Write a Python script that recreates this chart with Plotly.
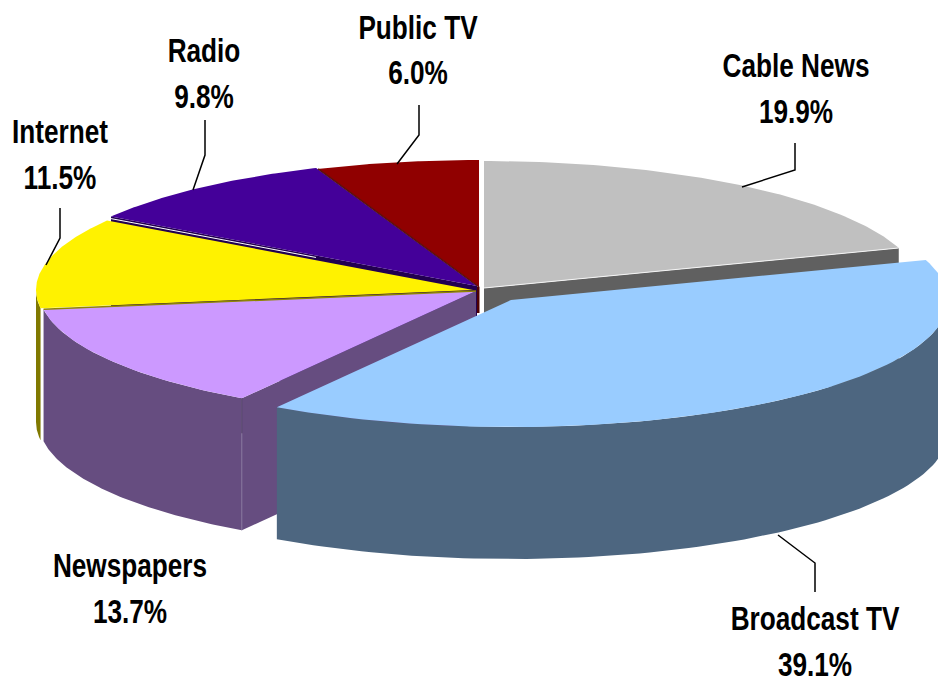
# 3D-style exploded pie of news source shares, built on pixel-like axes
import numpy as np
import plotly.graph_objects as go

# Data, clockwise from 12 o'clock
categories = ["Cable News", "Broadcast TV", "Newspapers", "Internet", "Radio", "Public TV"]
shares = [19.9, 39.1, 13.7, 11.5, 9.8, 6.0]

# Colours
top_colors = ["#C0C0C0", "#99CCFF", "#CC99FF", "#FFF200", "#440099", "#900000"]
wall_colors = ["#606060", "#4D6680", "#664D80", "#807900", "#220050", "#500000"]

# Pie geometry (apex of each exploded slice)
apex_x = [484, 511, 476, 473, 477, 479]
apex_y = [288, 300, 291, 290, 286, 287]
radius_x = 437
radius_y = 127
depth = 132

# Labels
label_x = [796, 815, 130, 60, 204, 418]
label_y = [69, 622, 569, 135, 54, 30]
line_gap = 46
leader_x = [[795, 795, 742], [815, 815, 778], [], [60, 60, 46], [205, 205, 193], [419, 419, 397]]
leader_y = [[143, 170, 187], [592, 563, 535], [], [208, 238, 265], [120, 155, 190], [105, 135, 164]]

ends = np.cumsum(shares) * 3.6
starts = ends - np.array(shares) * 3.6


def rim(i, a0, a1):
    t = np.radians(np.linspace(a0, a1, 90))
    return apex_x[i] + radius_x * np.sin(t), apex_y[i] - radius_y * np.cos(t)


def poly(xs, ys, color):
    fig.add_trace(go.Scatter(x=list(xs), y=list(ys), mode="lines", fill="toself",
                             fillcolor=color, line=dict(width=0), hoverinfo="skip"))


def edge(xs, ys, color, width=1):
    fig.add_trace(go.Scatter(x=list(xs), y=list(ys), mode="lines",
                             line=dict(color=color, width=width), hoverinfo="skip"))


def outer_wall(i, a0, a1):
    x, y = rim(i, a0, a1)
    poly(np.r_[x, x[::-1]], np.r_[y, y[::-1] + depth], wall_colors[i])


def radial_wall(i, a):
    x, y = rim(i, a, a)
    x, y = x[0], y[0]
    poly([apex_x[i], x, x, apex_x[i]], [apex_y[i], y, y + depth, apex_y[i] + depth], wall_colors[i])


def top_face(i):
    x, y = rim(i, starts[i], ends[i])
    poly(np.r_[apex_x[i], x], np.r_[apex_y[i], y], top_colors[i])


fig = go.Figure()

# Back to front: public TV, radio, internet, cable, newspapers, broadcast
edge([apex_x[4] - 2, apex_x[4] - 2], [apex_y[4], apex_y[4] + 28], wall_colors[4], 4)
edge([apex_x[5] - 1, apex_x[5] - 1], [apex_y[5], apex_y[5] + 26], wall_colors[5], 3)
radial_wall(4, starts[4])
top_face(4)
top_face(5)
px, py = rim(5, starts[5], starts[5])
edge([px[0], apex_x[5]], [py[0], apex_y[5]], "#5A1010", 1.5)

outer_wall(3, starts[3], 270)
top_face(3)

radial_wall(0, ends[0])
top_face(0)
cx, cy = rim(0, ends[0], ends[0])
edge([apex_x[0], cx[0]], [apex_y[0], cy[0]], "#F4F4F4", 1)

outer_wall(2, starts[2], ends[2])
radial_wall(2, starts[2])
top_face(2)
nx, ny = rim(2, starts[2], starts[2])
edge([nx[0], nx[0]], [ny[0] + 35, ny[0] + depth], "#84739A", 1)
edge([nx[0], nx[0]], [ny[0], ny[0] + 35], "#55466A", 1)
lx, ly = rim(2, ends[2], ends[2])
edge([lx[0], apex_x[2]], [ly[0], apex_y[2]], "#8F8600", 1.5)

# lit edge along the lower side of the radio slice
rx, ry = rim(4, starts[4], starts[4])
edge([rx[0], rx[0] + 0.56 * (apex_x[4] - rx[0])], [ry[0] + 2, ry[0] + 2 + 0.56 * (apex_y[4] - ry[0])], "#FFFFFF", 1)

outer_wall(1, 90, ends[1])
top_face(1)

# Leader lines
for lxs, lys in zip(leader_x, leader_y):
    if lxs:
        edge(lxs, lys, "#000000", 1.5)

# Labels: name on one line, share on the next
for name, share, x, y in zip(categories, shares, label_x, label_y):
    fig.add_trace(go.Scatter(
        x=[x, x], y=[y, y + line_gap], mode="text", text=[f"<b>{name}</b>", f"<b>{share:.1f}%</b>"],
        textposition="middle center", hoverinfo="skip",
        textfont=dict(family="Liberation Sans", size=34, color="#000000"),
    ))

fig.update_layout(
    width=938, height=683, showlegend=False,
    margin=dict(l=0, r=0, t=0, b=0),
    paper_bgcolor="white", plot_bgcolor="white",
    xaxis=dict(range=[0, 938], visible=False),
    yaxis=dict(range=[683, 0], visible=False),
)

# the reference type is condensed Arial bold, no narrow face is installed so squeeze it
squeeze = """
document.body.style.margin='0';document.body.style.overflow='hidden';
document.querySelectorAll('.textpoint text').forEach(function(t){
  var c = parseFloat(t.getAttribute('x')) || 0;
  t.setAttribute('transform', 'translate('+c+',0) scale(0.77,1) translate('+(-c)+',0)');
});
"""
fig.write_html("out.html", config=dict(displayModeBar=False), post_script=squeeze)
